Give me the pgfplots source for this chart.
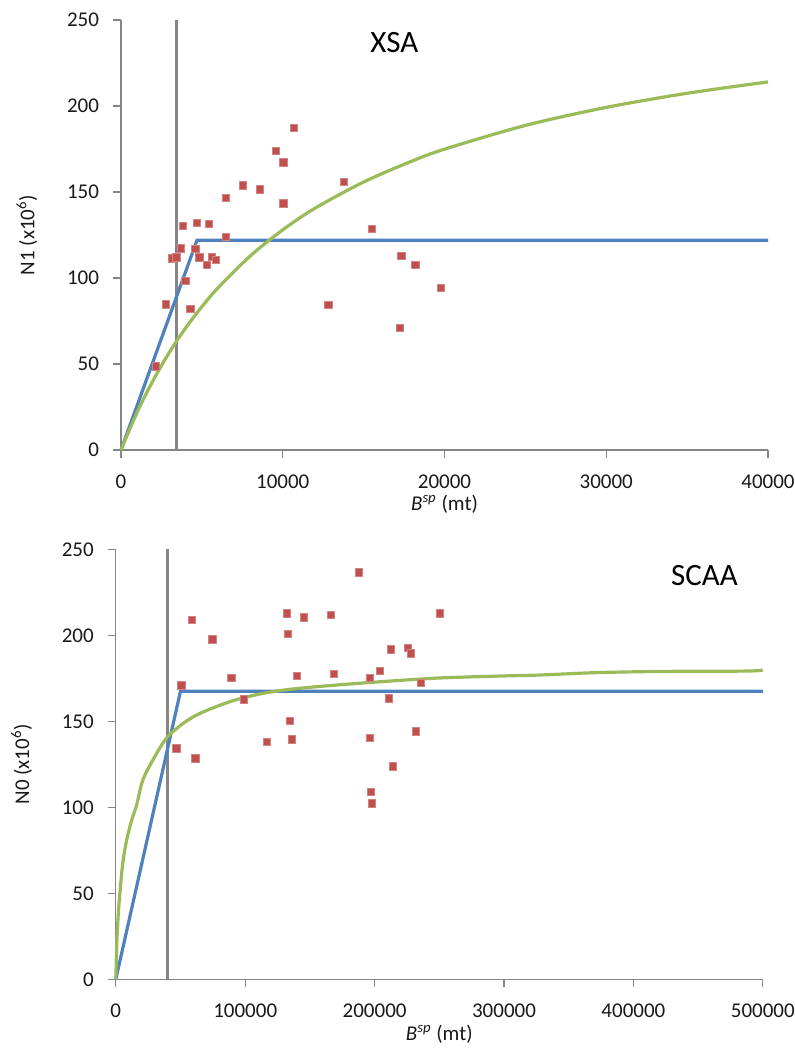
\documentclass[border=0pt]{standalone}
\usepackage{fontspec}
\setmainfont{Carlito}
\usepackage{pgfplots}
\pgfplotsset{compat=1.18}

\definecolor{xlblue}{RGB}{79,129,189}
\definecolor{xlgreen}{RGB}{155,187,89}
\definecolor{xlred}{RGB}{192,80,77}
\definecolor{xlgray}{RGB}{134,134,134}

\pgfplotsset{
  xlstyle/.style={
    scale only axis, width=323.5pt, height=215pt,
    ymin=0, ymax=250, ytick={0,50,100,150,200,250},
    yticklabels={0,50,100,150,200,250},
    axis x line*=bottom, axis y line*=left,
    axis line style={xlgray, line width=0.6pt},
    tick style={xlgray, line width=0.6pt},
    tick align=outside, major tick length=4pt,
    tick label style={font=\fontsize{10.5}{12}\selectfont, text=black!90},
    label style={font=\fontsize{10.5}{12}\selectfont, text=black!90},
    yticklabel style={xshift=-3.5pt},
    xticklabel style={yshift=-5pt},
    xlabel style={yshift=3.5pt}, ylabel style={yshift=8pt},
    scaled x ticks=false,
    clip=false,
  },
  bline/.style={xlblue, line width=1.6pt},
  gline/.style={xlgreen, line width=1.6pt},
  vline/.style={xlgray, line width=1.2pt},
  pts/.style={only marks, mark=square*, mark size=1.8pt, mark options={fill=xlred, draw=xlred!70!white, line width=0.3pt}},
}

\begin{document}
\begin{tikzpicture}
\useasboundingbox (0,0) rectangle (397.5pt,524.5pt);

% XSA
\begin{axis}[xlstyle, at={(60.5pt,299.5pt)}, anchor=south west,
  xmin=0, xmax=40000, xtick={0,10000,20000,30000,40000},
  xticklabels={0,10000,20000,30000,40000},
  xlabel={\textit{B}\textsuperscript{\textit{sp}} (mt)},
  ylabel={N1 (x10\textsuperscript{6})}]
  \addplot[vline] coordinates {(3440,0) (3440,250)};
  \addplot[bline] coordinates {(0,0) (4700,122) (40000,122)};
  \addplot[gline, smooth] coordinates {(0,0) (1000,22) (2000,40.7) (3000,56.9) (4000,71) (5000,83.3) (6000,94.3) (8000,112.9) (10000,128) (12000,140.6) (15000,155.8) (18000,168) (20000,174.9) (25000,188.7) (30000,199.2) (35000,207.4) (40000,214)};
  \addplot[pts] coordinates {
    (10700,187.4) (9590,174.0) (10040,167.3) (13790,156.0) (7530,153.9)
    (8560,151.6) (6480,146.5) (10040,143.4) (3810,130.2) (4670,132.2)
    (5450,131.4) (6480,124.0) (3720,117.3) (4590,116.9) (3130,111.4)
    (3420,112.0) (4840,112.0) (5620,112.4) (5860,110.6) (5310,107.7)
    (3970,98.6) (2780,84.7) (4280,82.2) (12820,84.6) (2140,48.7)
    (15510,128.5) (17330,112.8) (18190,107.6) (19770,94.2) (17240,71.1)};
  \node[font=\fontsize{15.5}{18}\selectfont] at (axis cs:16900,237) {XSA};
\end{axis}

% SCAA
\begin{axis}[xlstyle, at={(57.9pt,34.85pt)}, anchor=south west,
  xmin=0, xmax=500000, xtick={0,100000,200000,300000,400000,500000},
  xticklabels={0,100000,200000,300000,400000,500000},
  xlabel={\textit{B}\textsuperscript{\textit{sp}} (mt)},
  ylabel={N0 (x10\textsuperscript{6})}]
  \addplot[vline] coordinates {(40000,0) (40000,250)};
  \addplot[bline] coordinates {(0,0) (50000,167.5) (500000,167.5)};
  \addplot[gline, smooth] coordinates {(0,0) (1000,25) (2500,44) (5300,67) (8400,81) (12300,92.6) (16100,101.3) (21200,116.5) (31600,131.4) (40000,141) (52100,148.8) (65000,154.6) (88200,161.4) (111400,165.9) (137100,168.8) (180900,171.7) (245200,175) (296700,176.3) (327600,176.9) (371400,178.3) (422800,179) (487200,179.2) (500000,179.8)};
  \addplot[pts] coordinates {
    (58600,208.9) (74520,197.7) (131970,212.8) (145560,210.5) (166410,212.0)
    (132740,200.8) (89190,175.3) (139690,176.3) (168490,177.7) (50580,170.9)
    (98990,162.8) (134750,150.2) (116990,138.1) (135830,139.5) (46720,134.3)
    (61390,128.5) (188030,236.6) (250580,212.8) (212740,191.9) (225870,192.6)
    (227720,189.5) (196060,175.3) (204020,179.2) (235680,172.4) (210970,163.4)
    (196060,140.3) (231810,144.2) (214050,123.8) (197070,109.1) (198070,102.3)};
  \node[font=\fontsize{15.5}{18}\selectfont] at (axis cs:455000,235) {SCAA};
\end{axis}
\end{tikzpicture}
\end{document}
